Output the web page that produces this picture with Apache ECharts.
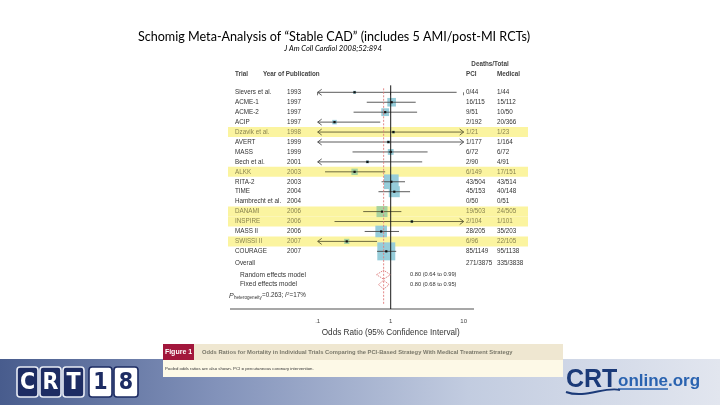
<!DOCTYPE html>
<html><head><meta charset="utf-8">
<script src="https://cdn.jsdelivr.net/npm/echarts@6/dist/echarts.min.js"></script>
<style>html,body{margin:0;padding:0;background:#fff}#c{width:720px;height:405px}</style>
</head><body><div id="c"></div>
<script>
// ---- data ----
const trials = ['Sievers et al.','ACME-1','ACME-2','ACIP','Dzavik et al.','AVERT','MASS','Bech et al.','ALKK','RITA-2','TIME','Hambrecht et al.','DANAMI','INSPIRE','MASS II','SWISSI II','COURAGE'];
const years = [1993,1997,1997,1997,1998,1999,1999,2001,2003,2003,2004,2004,2006,2006,2006,2007,2007];
const pciDeaths = ['0/44','16/115','9/51','2/192','1/21','1/177','6/72','2/90','6/149','43/504','45/153','0/50','19/503','2/104','28/205','6/96','85/1149'];
const medDeaths = ['1/44','15/112','10/50','20/366','1/23','1/164','6/72','4/91','17/151','43/514','40/148','0/51','24/505','1/101','35/203','22/105','95/1138'];
const oddsRatio = [0.32,1.03,0.84,0.17,1.09,0.93,1.00,0.48,0.32,1.02,1.12,null,0.76,1.95,0.74,0.25,0.87];
const ciLower = [0.01,0.47,0.31,0.04,0.07,0.06,0.30,0.09,0.126,0.75,0.68,null,0.42,0.17,0.44,0.097,0.65];
const ciUpper = [8.0,2.2,2.3,0.72,18,15,3.2,2.7,0.84,1.57,1.84,null,1.40,22,1.30,0.65,1.19];
const weights = [0.5,5.5,4.5,1.5,0.5,0.5,2.5,0.6,3,16,9,0,9,0.6,10,2,24];
const amiTrial = [0,0,0,0,1,0,0,0,1,0,0,0,1,1,0,1,0];
const overallDeaths = ['271/3875','335/3838'];
const pooledLabels = ['Random effects model','Fixed effects model'];
const pooledOR = [0.80,0.80];
const pooledLower = [0.64,0.68];
const pooledUpper = [0.99,0.95];
const heterogeneityP = '0.263';
const heterogeneityI2 = '17%';
const axisTicks = [0.1,1,10];
const axisTickLabels = ['.1','1','10'];

// ---- layout helpers ----
const XMIN = 0.1, XMAX = 10;
const FF = '"Liberation Sans", Arial, sans-serif';
const rowOverall = 17.2, rowRandom = 18.35, rowFixed = 19.35, rowHet = 20.45;
function txt(t, x, y, o) {
  o = o || {};
  return {type:'text', style:{text:t, x:x, y:y, fill:o.fill||'#333', fontSize:o.size||6.3,
    fontFamily:o.family||FF, fontWeight:o.weight||'normal', fontStyle:o.style||'normal',
    align:o.align||'left', verticalAlign:o.va||'middle'}, z2:o.z2||10};
}
function boxSize(w){ return Math.max(3, Math.sqrt(w)*3.67); }

const mc = document.createElement('canvas').getContext('2d');
function tw(t, size, weight, style){ mc.font = (style||'normal')+' '+(weight||'normal')+' '+size+'px '+FF; return mc.measureText(t).width; }

function renderBands(params, api) {
  const i = params.dataIndex;
  if (!amiTrial[i]) return {type:'group', children:[]};
  const y = api.coord([1, i])[1];
  return {type:'rect', shape:{x:228, y:y-5, width:300, height:10}, style:{fill:'#fbf4a0'}};
}

function renderTrial(params, api) {
  const i = params.dataIndex;
  const y = api.coord([1, i])[1];
  const hl = amiTrial[i] === 1;
  const tc = hl ? '#8a8450' : '#333';
  const ch = [];
  ch.push(txt(trials[i], 235, y, {fill:tc}));
  ch.push(txt(String(years[i]), 287, y, {fill:tc}));
  ch.push(txt(pciDeaths[i], 466, y, {fill:tc}));
  ch.push(txt(medDeaths[i], 497, y, {fill:tc}));
  if (oddsRatio[i] != null) {
    const lc = hl ? '#5e5b34' : '#4a4a4a';
    const lo = Math.max(ciLower[i], XMIN), hi = Math.min(ciUpper[i], XMAX);
    const pLo = api.coord([lo, i])[0], pHi = api.coord([hi, i])[0], pC = api.coord([oddsRatio[i], i])[0];
    const s = boxSize(weights[i]);
    ch.push({type:'rect', shape:{x:pC-s/2, y:y-s/2, width:s, height:s}, style:{fill: hl ? '#a6d2a0' : '#96cdda'}, z2:2});
    ch.push({type:'line', shape:{x1:pLo, y1:y, x2:pHi, y2:y}, style:{stroke:lc, lineWidth:0.9}, z2:3});
    if (ciLower[i] < XMIN) ch.push({type:'polyline', shape:{points:[[pLo+4,y-3],[pLo,y],[pLo+4,y+3]]}, style:{stroke:lc, fill:null, lineWidth:0.9}, z2:3});
    if (ciUpper[i] > XMAX) ch.push({type:'polyline', shape:{points:[[pHi-4,y-3],[pHi,y],[pHi-4,y+3]]}, style:{stroke:lc, fill:null, lineWidth:0.9}, z2:3});
    ch.push({type:'rect', shape:{x:pC-1.1, y:y-1.1, width:2.2, height:2.2}, style:{fill:'#111'}, z2:4});
  }
  return {type:'group', children:ch};
}

function renderPooled(params, api) {
  const i = params.dataIndex;
  const row = i === 0 ? rowRandom : rowFixed;
  const y = api.coord([1, row])[1];
  const pL = api.coord([pooledLower[i], row])[0], pR = api.coord([pooledUpper[i], row])[0], pC = api.coord([pooledOR[i], row])[0];
  const ch = [];
  ch.push({type:'polygon', shape:{points:[[pL,y],[pC,y-4.5],[pR,y],[pC,y+4.5]]}, style:{stroke:'#de7f7f', fill:'rgba(255,255,255,0)', lineWidth:0.9, lineDash:[1.6,0.9]}, z2:5});
  ch.push(txt(pooledLabels[i], 240, y, {size:6.6}));
  ch.push(txt(pooledOR[i].toFixed(2)+' ('+pooledLower[i].toFixed(2)+' to '+pooledUpper[i].toFixed(2)+')', 410, y, {size:5.7}));
  return {type:'group', children:ch};
}

function renderSummaryText(params, api) {
  const yO = api.coord([1, rowOverall])[1];
  const yH = api.coord([1, rowHet])[1];
  const ch = [];
  ch.push(txt('Overall', 235, yO));
  ch.push(txt(overallDeaths[0], 466, yO));
  ch.push(txt(overallDeaths[1], 497, yO));
  let x = 229;
  ch.push(txt('P', x, yH, {size:7, style:'italic'})); x += tw('P',7,'normal','italic')+0.3;
  ch.push(txt('heterogeneity', x, yH+2, {size:4.6})); x += tw('heterogeneity',4.6)+0.3;
  const s1 = '='+heterogeneityP+'; ';
  ch.push(txt(s1, x, yH, {size:6.3})); x += tw(s1,6.3);
  ch.push(txt('I', x, yH, {size:6.3, style:'italic'})); x += tw('I',6.3,'normal','italic')+0.3;
  ch.push(txt('2', x, yH-2, {size:4.4})); x += tw('2',4.4);
  ch.push(txt('='+heterogeneityI2, x, yH, {size:6.3}));
  return {type:'group', children:ch};
}

// ---- static graphics (slide decoration) ----
const LATO = 'Lato, "Open Sans", sans-serif';
const graphics = [];
graphics.push(txt('Schomig Meta-Analysis of \u201cStable CAD\u201d (includes 5 AMI/post-MI RCTs)', 334, 37, {family:LATO, size:12.6, fill:'#000', align:'center'}));
graphics.push(txt('J Am Coll Cardiol 2008;52:894', 333, 49, {family:LATO, size:7.5, fill:'#000', align:'center', style:'italic'}));
// headers
graphics.push(txt('Trial', 235, 74, {weight:'bold', fill:'#444'}));
graphics.push(txt('Year of Publication', 263, 74, {weight:'bold', fill:'#444'}));
graphics.push(txt('Deaths/Total', 490, 64, {weight:'bold', fill:'#444', align:'center'}));
graphics.push(txt('PCI', 466, 74, {weight:'bold', fill:'#444'}));
graphics.push(txt('Medical', 497, 74, {weight:'bold', fill:'#444'}));
// x-axis line
graphics.push({type:'line', shape:{x1:230, y1:309, x2:474, y2:309}, style:{stroke:'#8a8a8a', lineWidth:1.4}});
// bottom band
graphics.push({type:'rect', shape:{x:0, y:359, width:720, height:46}, style:{fill:{type:'linear', x:0, y:0, x2:1, y2:0, colorStops:[{offset:0,color:'#485c8d'},{offset:0.3,color:'#8292ba'},{offset:0.65,color:'#c2cce0'},{offset:1,color:'#e2e6ef'}]}}, z:-1});
// caption panel
graphics.push({type:'rect', shape:{x:163, y:344, width:400, height:16}, style:{fill:'#efe7d1'}});
graphics.push({type:'rect', shape:{x:163, y:344, width:31, height:16}, style:{fill:'#a2173c'}});
graphics.push(txt('Figure 1', 178.5, 352, {weight:'bold', fill:'#fff', size:7, align:'center'}));
graphics.push(txt('Odds Ratios for Mortality in Individual Trials Comparing the PCI-Based Strategy With Medical Treatment Strategy', 202, 352, {weight:'bold', fill:'#7a786a', size:5.8}));
graphics.push({type:'rect', shape:{x:163, y:360, width:400, height:17}, style:{fill:'#fdf9e7'}});
graphics.push(txt('Pooled odds ratios are also shown. PCI = percutaneous coronary intervention.', 165, 368.5, {fill:'#333', size:4.3}));
// CRT18 logo
const logoBoxes = [['C',17,21,true],['R',40,21,true],['T',63,21,true],['1',89,23,false],['8',114,24,false]];
logoBoxes.forEach(b => {
  graphics.push({type:'rect', shape:{x:b[1], y:367, width:b[2], height:30, r:3}, style:{fill:b[3]?'#1d2c63':'#fff', stroke:b[3]?'#e8ecf5':'#1d2c63', lineWidth:1.6}});
  graphics.push(txt(b[0], b[1]+b[2]/2, 383, {family:'"DejaVu Sans Condensed", "DejaVu Sans", sans-serif', weight:'bold', size:23, fill:b[3]?'#fff':'#1d2c63', align:'center'}));
});
// CRTonline.org logo
graphics.push(txt('CRT', 566, 380, {weight:'bold', size:25, fill:'#1b3a78'}));
graphics.push(txt('online', 618, 381, {weight:'bold', size:17, fill:'#2a63b0'}));
graphics.push({type:'line', shape:{x1:618, y1:389, x2:668, y2:389}, style:{stroke:'#2a63b0', lineWidth:1.5}});
graphics.push(txt('.org', 668, 381, {weight:'bold', size:17, fill:'#2a63b0'}));
graphics.push({type:'bezierCurve', shape:{x1:566, y1:392, cpx1:585, cpy1:399, cpx2:605, cpy2:386, x2:620, y2:390}, style:{stroke:'#1b3a78', fill:null, lineWidth:2}});

const chart = echarts.init(document.getElementById('c'));
chart.setOption({
  animation:false,
  backgroundColor:'#fff',
  grid:{left:317.7, right:256.3, top:82.36, bottom:96},
  xAxis:{type:'log', logBase:10, min:XMIN, max:XMAX,
    axisLine:{show:false}, splitLine:{show:false},
    axisTick:{show:true, length:3, lineStyle:{color:'#777'}},
    axisLabel:{fontSize:6, color:'#444', margin:9, fontFamily:FF,
      formatter:v => { const k = axisTicks.findIndex(t => Math.abs(t-v) < 1e-9); return k >= 0 ? axisTickLabels[k] : ''; }},
    name:'Odds Ratio (95% Confidence Interval)', nameLocation:'middle', nameGap:20,
    nameTextStyle:{fontSize:8.2, color:'#333', fontFamily:FF}},
  yAxis:{type:'value', inverse:true, min:-1, max:21.8, show:false},
  graphic:graphics,
  series:[
    {type:'custom', z:1, clip:false, renderItem:renderBands, data:trials.map((t,i)=>[1,i]), silent:true},
    {type:'line', z:3, symbol:'none', silent:true, data:[[1,-0.7],[1,21.8]], lineStyle:{color:'#1a1a1a', width:1}},
    {type:'line', z:3, symbol:'none', silent:true, data:[[pooledOR[1],-0.4],[pooledOR[1],21.4]], lineStyle:{color:'#e07a7a', width:0.9, type:[2,1.5]}},
    {type:'custom', z:2, clip:false, renderItem:renderTrial, data:trials.map((t,i)=>[oddsRatio[i]==null?1:oddsRatio[i], i]), silent:true},
    {type:'custom', z:4, clip:false, renderItem:renderPooled, data:pooledOR.map((v,i)=>[v, i===0?rowRandom:rowFixed]), silent:true},
    {type:'custom', z:4, clip:false, renderItem:renderSummaryText, data:[[1,rowOverall]], silent:true}
  ]
});
</script>
</body></html>
